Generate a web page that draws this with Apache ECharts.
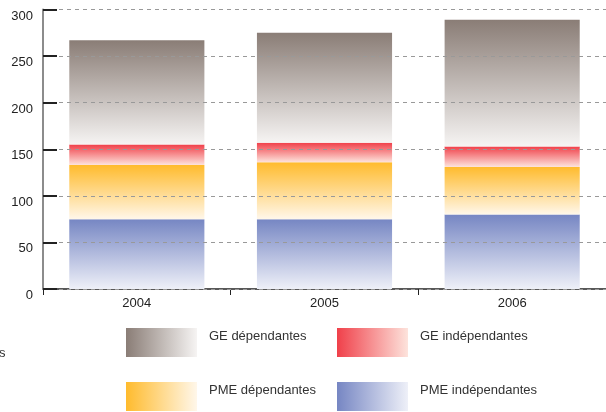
<!DOCTYPE html>
<html>
<head>
<meta charset="utf-8">
<script src="https://cdn.jsdelivr.net/npm/echarts@6/dist/echarts.min.js"></script>
<style>
  html, body { margin: 0; padding: 0; background: #fff; }
  #chart { width: 606px; height: 412px; }
</style>
</head>
<body>
<div id="chart"></div>
<script>
var years = ['2004', '2005', '2006'];
var pmeIndep = [75, 75, 80];
var pmeDep = [58, 61, 51];
var geIndep = [22, 21, 22];
var geDep = [112, 118, 136];
var yTicks = [0, 50, 100, 150, 200, 250, 300];

// couleurs : [haut, bas] pour les barres
var colGeDep = ['#8a7d76', '#f6f4f3'];
var colGeIndep = ['#f0404a', '#fde3dc'];
var colPmeDep = ['#ffbb2d', '#fff7ea'];
var colPmeIndep = ['#7686c3', '#eef0f8'];

function vGrad(c) {
  return new echarts.graphic.LinearGradient(0, 0, 0, 1, [
    { offset: 0, color: c[0] }, { offset: 1, color: c[1] }
  ]);
}
function hGrad(c) {
  return new echarts.graphic.LinearGradient(0, 0, 1, 0, [
    { offset: 0, color: c[0] }, { offset: 1, color: c[1] }
  ]);
}

function barSeries(name, data, c) {
  return {
    name: name,
    type: 'bar',
    stack: 'total',
    barWidth: '72%',
    data: data,
    itemStyle: { color: vGrad(c) },
    emphasis: { disabled: true }
  };
}

// une colonne de légende (2 entrées)
function legendCol(left, items) {
  return {
    left: left,
    top: 328,
    height: 84,
    padding: 0,
    orient: 'vertical',
    icon: 'rect',
    itemWidth: 71,
    itemHeight: 29,
    itemGap: 25,
    selectedMode: false,
    formatter: '{t|{name}}',
    textStyle: {
      fontFamily: 'Liberation Sans, Arial, sans-serif',
      fontSize: 13,
      color: '#333',
      rich: {
        t: {
          fontFamily: 'Liberation Sans, Arial, sans-serif',
          fontSize: 13,
          color: '#333',
          padding: [0, 0, 12, 7]
        }
      }
    },
    data: items.map(function (it) {
      return { name: it[0], itemStyle: { color: hGrad(it[1]) } };
    })
  };
}

var chart = echarts.init(document.getElementById('chart'));
chart.setOption({
  animation: false,
  backgroundColor: '#ffffff',
  grid: { left: 43, right: 0, top: 9.5, bottom: 123 },
  legend: [
    legendCol(126, [['GE dépendantes', colGeDep], ['PME dépendantes', colPmeDep]]),
    legendCol(337, [['GE indépendantes', colGeIndep], ['PME indépendantes', colPmeIndep]])
  ],
  xAxis: {
    type: 'category',
    data: years,
    axisLine: { lineStyle: { color: '#222', width: 1.5 } },
    axisTick: { show: true, length: 6, lineStyle: { color: '#222' } },
    axisLabel: {
      margin: 8,
      fontFamily: 'Liberation Sans, Arial, sans-serif',
      fontSize: 13,
      color: '#222'
    }
  },
  yAxis: {
    type: 'value',
    min: yTicks[0],
    max: yTicks[yTicks.length - 1],
    interval: 50,
    z: 5,
    axisLine: { show: true, lineStyle: { color: '#8c8c8c', width: 2 } },
    axisTick: { show: true, inside: true, length: 14, lineStyle: { color: '#222', width: 2 } },
    axisLabel: {
      margin: 10,
      verticalAlign: 'top',
      fontFamily: 'Liberation Sans, Arial, sans-serif',
      fontSize: 13,
      color: '#222'
    },
    splitLine: { lineStyle: { color: '#999', type: [4, 4], width: 1 } }
  },
  graphic: [{
    type: 'text',
    left: -1,
    top: 347,
    style: { text: 's', fontFamily: 'Liberation Sans, Arial, sans-serif', fontSize: 13, fill: '#333' }
  }],
  series: [
    barSeries('PME indépendantes', pmeIndep, colPmeIndep),
    barSeries('PME dépendantes', pmeDep, colPmeDep),
    barSeries('GE indépendantes', geIndep, colGeIndep),
    barSeries('GE dépendantes', geDep, colGeDep)
  ]
});
</script>
</body>
</html>
